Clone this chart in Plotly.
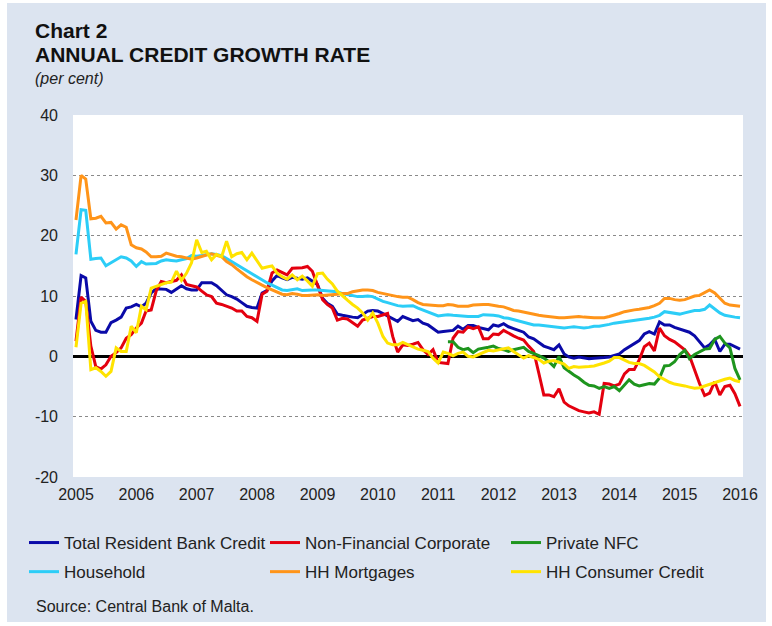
import pandas as pd
import plotly.graph_objects as go

# Monthly observations, Jan 2005 .. Jan 2016
start_month = "2005-01-01"
n_months = 133

total_credit = [
    6.1, 13.4, 13.0, 5.8, 4.3, 4.0, 4.0, 5.6, 6.0, 6.5, 8.0, 8.2,
    8.6, 8.2, 8.8, 10.5, 11.2, 11.2, 11.1, 10.6, 11.2, 11.7, 11.2, 11.0,
    11.0, 12.2, 12.2, 12.2, 11.7, 10.9, 10.2, 9.9, 9.5, 8.9, 8.3, 8.1,
    8.0, 10.5, 10.9, 12.5, 13.4, 13.0, 12.7, 13.1, 13.0, 12.8, 13.0, 12.4,
    11.9, 9.6, 8.8, 8.3, 7.0, 6.8, 6.6, 6.5, 6.4, 7.0, 7.5, 7.6,
    7.5, 7.1, 6.7, 6.2, 5.8, 6.6, 6.3, 5.9, 6.1, 5.5, 5.2, 4.6,
    4.0, 4.1, 4.2, 4.3, 5.0, 4.5, 5.1, 5.1, 4.8, 4.6, 4.4, 5.2,
    5.0, 5.4, 4.9, 4.6, 4.3, 4.0, 3.2, 2.9, 2.3, 1.7, 1.4, 1.1,
    1.9, 0.4, -0.1, -0.3, -0.1, -0.3, -0.4, -0.3, -0.3, -0.2, -0.1, 0.2,
    0.4, 1.1, 1.6, 2.1, 2.6, 3.7, 4.1, 3.7, 5.7, 5.2, 5.2, 4.8,
    4.5, 4.2, 4.0, 3.4, 2.5, 1.4, 1.9, 2.8, 0.8, 2.0, 2.0, 1.6,
    1.2,
]

non_financial_corp = [
    2.5, 9.8, 9.1, 1.7, -1.7, -2.1, -1.4, 0.0, 0.6, 1.4, 3.0, 3.6,
    4.7, 5.5, 7.5, 7.7, 10.8, 12.4, 12.2, 12.4, 12.6, 13.5, 11.9, 11.7,
    11.5, 10.8, 10.2, 9.9, 8.8, 8.6, 8.3, 8.0, 7.5, 7.5, 6.6, 6.4,
    5.8, 10.3, 10.8, 13.8, 14.3, 13.9, 13.5, 14.6, 14.6, 14.7, 14.9, 14.1,
    11.8, 9.4, 8.6, 8.0, 6.0, 6.3, 6.2, 5.6, 5.0, 6.0, 6.3, 6.6,
    6.6, 6.8, 7.1, 3.3, 0.7, 1.9, 1.8, 2.0, 2.3, 1.1, 0.3, 1.1,
    -1.0, -1.1, -1.2, 3.0, 4.1, 4.0, 4.9, 4.6, 4.9, 2.9, 2.9, 3.7,
    3.6, 4.3, 3.8, 3.4, 3.0, 2.7, 1.7, 0.8, -2.8, -6.4, -6.4, -6.7,
    -5.4, -7.6, -8.2, -8.6, -9.0, -9.2, -9.4, -9.2, -9.6, -4.5, -4.6, -4.9,
    -4.6, -2.9, -2.2, -2.2, -0.6, 1.6, 2.2, 0.9, 4.7, 3.4, 2.8, 2.4,
    1.7, 1.1, 0.1, -2.4, -4.5, -6.5, -6.1, -4.2, -6.4, -5.0, -4.8, -6.2,
    -8.3,
]

# Private NFC series only starts in March 2011
private_nfc = [None] * 74 + [
    2.4, 2.4, 1.5, 1.1, 1.3, 0.6, 1.2, 1.3, 1.5, 1.7,
    1.3, 1.1, 0.8, 1.1, 1.3, 1.5, 0.8, 0.5, 0.1, -0.3, -0.9, -1.7,
    0.0, -1.9, -2.5, -3.1, -3.6, -4.3, -4.8, -4.9, -5.3, -5.0, -5.3, -5.0,
    -5.7, -4.7, -3.9, -4.6, -4.9, -4.7, -4.5, -4.6, -3.6, -1.6, -1.5, -0.9,
    0.3, 1.0, -0.4, 0.3, 0.8, 1.2, 1.3, 2.8, 3.3, 2.2, 1.4, -2.0,
    -3.9,
]

household = [
    16.9, 24.3, 24.2, 16.1, 16.2, 16.3, 15.0, 15.5, 16.0, 16.5, 16.3, 15.8,
    14.9, 15.7, 15.3, 15.3, 15.4, 15.8, 16.0, 15.9, 15.8, 16.0, 16.2, 16.7,
    16.6, 16.7, 16.9, 17.0, 16.9, 16.7, 16.2, 15.7, 15.2, 14.6, 14.1, 13.6,
    13.1, 12.6, 12.2, 11.8, 11.4, 11.0, 10.9, 11.1, 11.2, 10.9, 11.0, 11.0,
    11.0, 10.9, 10.8, 10.8, 10.7, 10.4, 10.2, 10.1, 9.9, 9.9, 10.0, 9.9,
    9.5, 9.1, 8.9, 8.6, 8.4, 8.3, 8.3, 8.4, 8.0, 7.7, 7.4, 7.1,
    6.7, 6.8, 6.9, 6.8, 6.7, 6.7, 6.6, 6.6, 6.6, 6.9, 6.9, 6.8,
    6.7, 6.4, 6.3, 6.1, 5.9, 5.6, 5.4, 5.2, 5.2, 5.1, 5.0, 4.9,
    4.8, 4.7, 4.8, 4.9, 4.8, 4.7, 4.8, 5.0, 5.0, 5.1, 5.3, 5.5,
    5.6, 5.8, 5.9, 6.0, 6.1, 6.2, 6.3, 6.5, 6.8, 7.4, 7.3, 7.2,
    7.0, 7.2, 7.4, 7.6, 7.6, 7.8, 8.5, 7.9, 7.2, 6.8, 6.6, 6.5,
    6.4,
]

hh_mortgages = [
    22.6, 30.0, 29.4, 22.8, 22.9, 23.2, 22.1, 22.2, 21.1, 21.8, 21.4, 18.5,
    18.0, 17.8, 17.3, 16.5, 16.5, 16.6, 17.1, 16.8, 16.6, 16.5, 16.3, 16.1,
    16.3, 16.6, 16.8, 17.0, 16.8, 16.5, 15.7, 15.2, 14.5, 13.8, 13.2, 12.7,
    12.2, 11.8, 11.4, 11.0, 10.6, 10.3, 10.2, 10.4, 10.3, 10.1, 10.1, 10.2,
    10.2, 10.1, 10.2, 10.3, 10.3, 10.4, 10.4, 10.7, 10.9, 11.0, 11.0, 10.9,
    10.6, 10.4, 10.2, 10.1, 9.9, 9.8, 9.8, 9.4, 8.9, 8.6, 8.5, 8.4,
    8.4, 8.4, 8.6, 8.5, 8.3, 8.3, 8.3, 8.5, 8.6, 8.6, 8.6, 8.4,
    8.3, 8.2, 7.9, 7.6, 7.5, 7.3, 7.1, 6.9, 6.8, 6.7, 6.6, 6.4,
    6.4, 6.4, 6.5, 6.6, 6.6, 6.5, 6.4, 6.4, 6.4, 6.4, 6.6, 6.8,
    7.1, 7.4, 7.6, 7.7, 7.8, 7.9, 8.1, 8.4, 8.8, 9.6, 9.6, 9.4,
    9.3, 9.4, 9.7, 10.0, 10.1, 10.6, 11.0, 10.5, 9.6, 8.8, 8.5, 8.4,
    8.3,
]

hh_consumer = [
    1.5, 8.8, 9.1, -2.2, -1.9, -2.5, -3.3, -2.5, 1.4, 0.8, 0.8, 5.0,
    3.9, 8.3, 7.7, 11.3, 11.6, 11.9, 12.2, 12.3, 14.1, 12.6, 13.8, 15.5,
    19.3, 17.2, 17.4, 16.0, 16.9, 16.5, 19.1, 16.5, 17.0, 17.2, 16.0, 17.1,
    15.8, 14.6, 14.8, 15.0, 13.8, 13.2, 12.8, 13.5, 12.7, 13.3, 12.5, 11.6,
    13.7, 13.8, 12.8, 12.0, 10.8, 10.0, 9.3, 8.6, 8.0, 7.2, 6.0, 7.2,
    5.5, 3.3, 2.2, 1.9, 1.9, 2.3, 1.9, 1.6, 1.2, 1.0, 0.8, -0.3,
    -1.1, 0.7, 0.5, 0.1, 0.5, 0.7, 0.0, -0.1, 0.3, 0.6, 1.0, 0.9,
    1.1, 1.2, 1.4, 0.8, 0.2, -0.3, 0.1, -0.2, -0.5, -1.1, -0.8, -0.7,
    -1.0, -1.3, -2.0, -1.7, -1.8, -1.8, -1.7, -1.6, -1.4, -1.1, -0.8, -0.2,
    -0.2, -0.6, -1.0, -1.2, -1.2, -1.5, -2.0, -2.6, -3.4, -3.9, -4.3, -4.6,
    -4.7, -4.9, -5.1, -5.3, -5.2, -4.9, -4.6, -4.3, -4.1, -3.8, -3.6, -4.0,
    -4.2,
]

year_labels = [str(y) for y in range(2005, 2017)]
y_ticks = [-20, -10, 0, 10, 20, 30, 40]
y_tick_labels = [str(v) for v in y_ticks]

series = [
    ("Total Resident Bank Credit", total_credit, "#0a0aa8", "legend"),
    ("Non-Financial Corporate", non_financial_corp, "#e4000f", "legend2"),
    ("Private NFC", private_nfc, "#1e951e", "legend3"),
    ("Household", household, "#2ccdf7", "legend"),
    ("HH Mortgages", hh_mortgages, "#ff9419", "legend2"),
    ("HH Consumer Credit", hh_consumer, "#ffe300", "legend3"),
]

dates = pd.date_range(start_month, periods=n_months, freq="MS")

fig = go.Figure()
for name, vals, col, leg in series:
    assert len(vals) == n_months, name
    fig.add_trace(go.Scatter(
        x=dates, y=vals, name=name, mode="lines",
        line=dict(color=col, width=3),
        legend=leg, legendgroup=name,
    ))

# pixel geometry helpers
L, R, T, B = 73, 743, 115, 477
W, H = 772, 626
def px(x):
    return (x - L) / (R - L)
def py(y):
    return (B - y) / (B - T)

FONT = "Liberation Sans, Arial, sans-serif"
BG = "#dce4f0"

fig.update_layout(
    width=W, height=H,
    margin=dict(l=L, r=W - R, t=T, b=H - B),
    paper_bgcolor="white",
    plot_bgcolor="white",
    font=dict(family=FONT, size=16, color="#222222"),
    shapes=[
        dict(type="rect", xref="paper", yref="paper", layer="below",
             x0=px(7), x1=px(766), y0=py(622), y1=py(3),
             fillcolor=BG, line=dict(width=0)),
        dict(type="rect", xref="paper", yref="paper", layer="below",
             x0=0, x1=1, y0=0, y1=1,
             fillcolor="white", line=dict(width=0)),
    ],
    annotations=[
        dict(text="<b>Chart 2</b>", xref="paper", yref="paper",
             x=px(33), y=py(30), xanchor="left", yanchor="middle",
             showarrow=False, font=dict(size=21, color="#111111")),
        dict(text="<b>ANNUAL CREDIT GROWTH RATE</b>", xref="paper", yref="paper",
             x=px(33), y=py(55), xanchor="left", yanchor="middle",
             showarrow=False, font=dict(size=21, color="#111111")),
        dict(text="<i>(per cent)</i>", xref="paper", yref="paper",
             x=px(33), y=py(78), xanchor="left", yanchor="middle",
             showarrow=False, font=dict(size=16, color="#222222")),
        dict(text="Source: Central Bank of Malta.", xref="paper", yref="paper",
             x=px(34), y=py(606), xanchor="left", yanchor="middle",
             showarrow=False, font=dict(size=16, color="#222222")),
    ],
    showlegend=True,
)

leg_common = dict(
    orientation="v", bgcolor="rgba(0,0,0,0)", borderwidth=0,
    font=dict(family=FONT, size=17, color="#222222"),
    yanchor="top", xanchor="left", traceorder="grouped", tracegroupgap=4,
    itemwidth=30,
)
leg_y = py(525)
fig.update_layout(
    legend=dict(x=px(24), y=leg_y, **leg_common),
    legend2=dict(x=px(265), y=leg_y, **leg_common),
    legend3=dict(x=px(506), y=leg_y, **leg_common),
)

fig.update_xaxes(
    type="date",
    range=["2004-12-14", "2016-01-19"],
    tickvals=[f"{y}-01-01" for y in year_labels],
    ticktext=year_labels,
    showgrid=False, zeroline=False, showline=False, ticks="",
    tickfont=dict(size=16, color="#222222"),
    ticklabelstandoff=6,
)
fig.update_yaxes(
    range=[-20, 40],
    tickvals=y_ticks,
    ticktext=y_tick_labels,
    showgrid=True, gridcolor="#8a8a8a", gridwidth=1, griddash="3px,3px",
    zeroline=True, zerolinecolor="black", zerolinewidth=3,
    showline=False, ticks="",
    tickfont=dict(size=16, color="#222222"),
    ticklabelstandoff=14,
)

fig.write_html(
    "out.html",
    config={"displayModeBar": False},
    post_script="document.body.style.margin='0px';",
)
